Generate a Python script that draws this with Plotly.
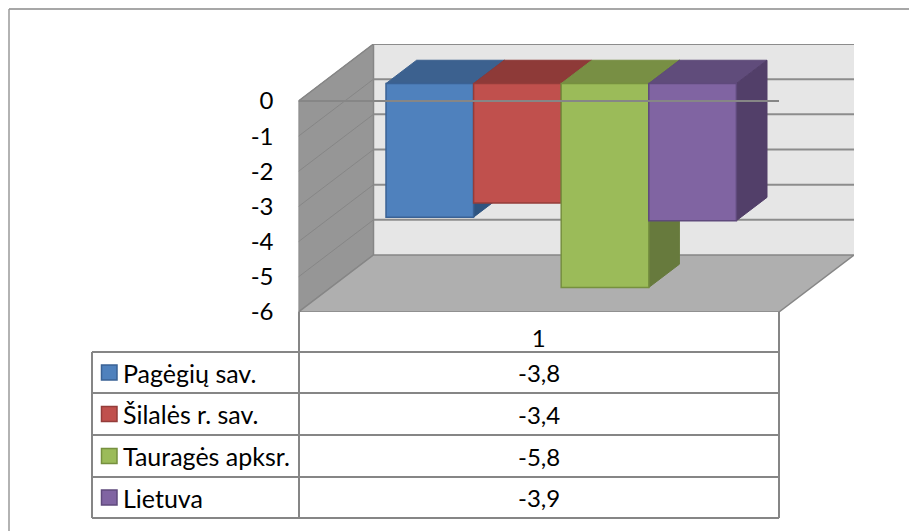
import plotly.graph_objects as go

W, H = 909, 531
categories = ["Pagėgių sav.", "Šilalės r. sav.", "Tauragės apksr.", "Lietuva"]
values = [-3.8, -3.4, -5.8, -3.9]
y_ticks = [0, -1, -2, -3, -4, -5, -6]
x_label = "1"
front = ["#4F81BD", "#C0504D", "#9BBB59", "#8064A2"]
edge = ["#3A6295", "#943C3A", "#76903F", "#5F4A7C"]
top = ["#3C618F", "#8E3A38", "#788F44", "#604C7B"]
side = ["#2F5480", "#7A3230", "#677A3D", "#523F69"]
LINE = "#868686"
FONT = "Lato"
FS = 24
FS_LEGEND = 25

# pixel frame of the plot
L, R, T, B = 298.5, 854, 44, 312
Y0 = 101
unit = (B - Y0) / 6            # px per value unit
frame = 480.5                  # px per category
DX = (R - L - frame) / frame   # full depth in x units
DY = (B - 255) / unit          # full depth in y units
bar_d0, bar_d1 = 0.307, 0.715  # depth span of the bars
bar_w = 87.6 / frame
bar_start = (386 - L) / frame - DX * bar_d0


def P(x, v, d=0.0):
    return x + DX * d, v + DY * d


def path(pts):
    return "M" + " L".join(f"{x:.5f},{y:.5f}" for x, y in pts) + " Z"


shapes = []


def data_shape(pts, fill, line=None, width=1):
    shapes.append(dict(type="path", xref="x", yref="y", layer="below", path=path(pts),
                       fillcolor=fill, line=dict(color=line or fill, width=width)))


def data_line(a, b, color=LINE, width=1.5):
    shapes.append(dict(type="line", xref="x", yref="y", layer="below",
                       x0=a[0], y0=a[1], x1=b[0], y1=b[1], line=dict(color=color, width=width)))


ymin, ymax = min(y_ticks), max(y_ticks)
# back wall, left wall, floor
data_shape([P(0, ymin, 1), P(1, ymin, 1), P(1, ymax, 1), P(0, ymax, 1)], "#E6E6E6")
data_shape([P(0, ymin), P(0, ymax), P(0, ymax, 1), P(0, ymin, 1)], "#969696", LINE, 1.5)
data_shape([P(0, ymin), P(1, ymin), P(1, ymin, 1), P(0, ymin, 1)], "#AFAFAF", LINE, 1.5)
# gridlines
for t in y_ticks[:-1]:
    data_line(P(0, t, 1), P(1, t, 1), "#8C8C8C", 2)
    data_line(P(0, t), P(0, t, 1), "#868686", 1)

fig = go.Figure()
base = DY * bar_d0
for i, (c, v) in enumerate(zip(categories, values)):
    x0, x1 = bar_start + i * bar_w, bar_start + (i + 1) * bar_w
    # top and side faces sit behind every front face
    data_shape([P(x0, 0, bar_d0), P(x1, 0, bar_d0), P(x1, 0, bar_d1), P(x0, 0, bar_d1)], top[i])
    data_shape([P(x1, 0, bar_d0), P(x1, 0, bar_d1), P(x1, v, bar_d1), P(x1, v, bar_d0)], side[i])
    fig.add_bar(x=[0.5], y=[v], base=[base], width=[bar_w],
                offset=[x0 + DX * bar_d0 - 0.5], name=c,
                marker=dict(color=front[i], line=dict(color=edge[i], width=1.5)),
                showlegend=False, hoverinfo="skip")

# the zero axis line runs over the bars
fig.add_scatter(x=[P(0, 0)[0], P(1, 0)[0]], y=[0, 0], mode="lines",
                line=dict(color=LINE, width=2), cliponaxis=False,
                showlegend=False, hoverinfo="skip")


def px_x(x):
    return x / W


def px_y(y):
    return 1 - y / H


def paper_line(x0, y0, x1, y1, color=LINE, width=2):
    shapes.append(dict(type="line", xref="paper", yref="paper", layer="above",
                       x0=px_x(x0), y0=px_y(y0), x1=px_x(x1), y1=px_y(y1),
                       line=dict(color=color, width=width)))


# chart border (only its top and left edges fall inside the window)
paper_line(9, 9, W, 9, "#8A8A8A", 1.5)
paper_line(9, 9, 9, H, "#9A9A9A", 1.5)

# data table
T_LEFT, T_DIV, T_RIGHT = 92, 299, 779
rows = [352, 393, 435, 477, 518]
for y in rows:
    paper_line(T_LEFT, y, T_RIGHT, y)
paper_line(T_LEFT, rows[0], T_LEFT, rows[-1])
paper_line(T_DIV, B, T_DIV, rows[-1])
paper_line(T_RIGHT, B, T_RIGHT, rows[-1])

annotations = []
for i, (c, v) in enumerate(zip(categories, values)):
    yc = (rows[i] + rows[i + 1]) / 2
    shapes.append(dict(type="rect", xref="paper", yref="paper", layer="above",
                       x0=px_x(101.5), x1=px_x(117), y0=px_y(yc - 7.5), y1=px_y(yc + 7.5),
                       fillcolor=front[i], line=dict(color=edge[i], width=1.5)))
    annotations.append(dict(xref="paper", yref="paper", x=px_x(121), y=px_y(yc), text=c,
                            xanchor="left", yanchor="middle", showarrow=False,
                            font=dict(family=FONT, size=FS_LEGEND, color="#000000")))
    annotations.append(dict(xref="paper", yref="paper", x=px_x(539), y=px_y(yc),
                            text=f"{v}".replace(".", ","),
                            xanchor="center", yanchor="middle", showarrow=False,
                            font=dict(family=FONT, size=FS, color="#000000")))

fig.update_layout(
    width=W, height=H, autosize=False,
    margin=dict(l=0, r=0, t=0, b=0),
    paper_bgcolor="#FFFFFF", plot_bgcolor="rgba(0,0,0,0)",
    barmode="overlay", shapes=shapes, annotations=annotations, showlegend=False,
    font=dict(family=FONT, size=FS, color="#000000"),
    xaxis=dict(domain=[L / W, R / W], range=[0, 1 + DX], tickmode="array",
               tickvals=[0.5], ticktext=[x_label], showgrid=False, zeroline=False,
               showline=False, ticks="", ticklabelstandoff=10, fixedrange=True,
               anchor="y", automargin=False),
    yaxis=dict(domain=[1 - B / H, 1 - T / H], range=[ymin, ymax + DY], tickmode="array",
               tickvals=y_ticks, ticktext=[str(t) for t in y_ticks], showgrid=False,
               zeroline=False, showline=False, ticks="", ticklabelstandoff=24,
               fixedrange=True, anchor="x", automargin=False),
)

fig.write_html("out.html", config=dict(displayModeBar=False),
               post_script="document.body.style.margin='0';document.documentElement.style.overflow='hidden';")
